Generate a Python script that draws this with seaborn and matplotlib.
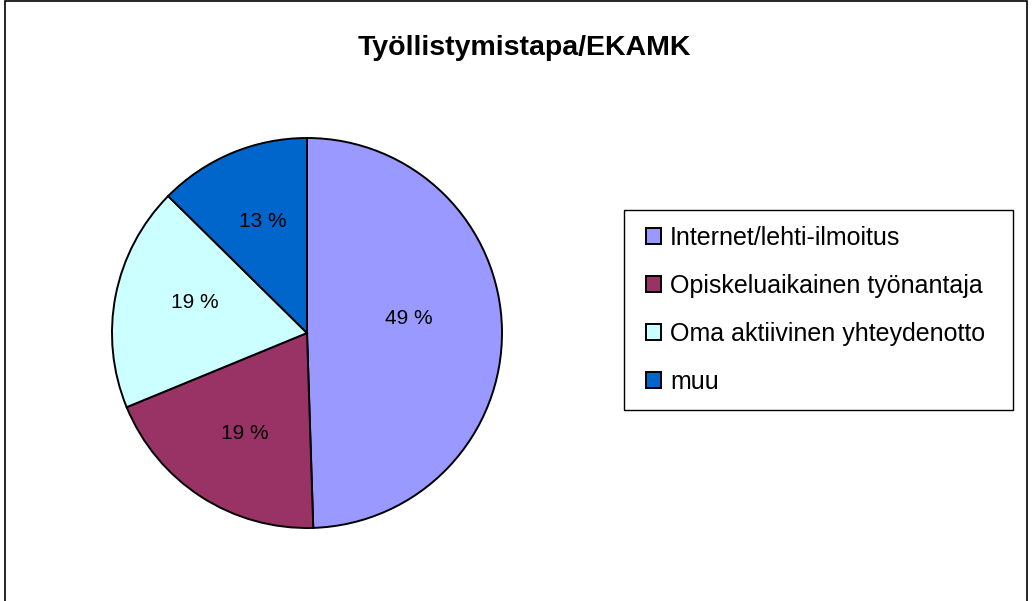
import matplotlib
matplotlib.use("Agg")
import matplotlib.pyplot as plt
import seaborn as sns
from matplotlib.patches import Rectangle

sns.set_theme(style="white")
plt.rcParams["font.family"] = ["Liberation Sans", "DejaVu Sans"]
plt.rcParams["text.color"] = "black"

title = "Työllistymistapa/EKAMK"
categories = ["Internet/lehti-ilmoitus", "Opiskeluaikainen työnantaja",
              "Oma aktiivinen yhteydenotto", "muu"]
shares = [49.49, 19.3, 18.6, 12.61]
colors = ["#9999FF", "#993366", "#CCFFFF", "#0066CC"]

W, H = 1032, 601
dpi = 100
fig = plt.figure(figsize=(W / dpi, H / dpi), dpi=dpi)


def px(x, y):
    # pixel (from top-left) -> figure fraction
    return x / W, 1 - y / H


# pie axes: centre (307, 333) px, radius 195 px
cx, cy, r = 307, 333, 195
ax = fig.add_axes([(cx - r) / W, (H - cy - r) / H, 2 * r / W, 2 * r / H])
wedges, texts, autotexts = ax.pie(
    shares, colors=colors, startangle=90, counterclock=False, radius=1,
    autopct=lambda p: "%.0f %%" % p, pctdistance=0.58,
    wedgeprops=dict(edgecolor="black", linewidth=1.4),
    textprops=dict(fontsize=15, color="black"))
for w in wedges:
    w.set_clip_on(False)

# excel-style label placement (label centres, in radius units)
label_pos = [(0.523, 0.075), (-0.318, -0.515), (-0.574, 0.157), (-0.226, 0.572)]
for t, (lx, ly) in zip(autotexts, label_pos):
    t.set_position((lx, ly))

ax.set_xlim(-1, 1)
ax.set_ylim(-1, 1)
ax.set_aspect("equal")
ax.axis("off")

fig.text(*px(524, 48), title, ha="center", va="center",
         fontsize=20.5, fontweight="bold", color="black")

# legend frame drawn by hand, entries placed inside it
x0, y0 = px(624, 410)
x1, y1 = px(1013, 210)
fig.patches.append(Rectangle((x0, y0), x1 - x0, y1 - y0,
                             transform=fig.transFigure, fill=False,
                             edgecolor="black", linewidth=1.0))
leg = fig.legend(wedges, categories, loc="center left",
                 bbox_to_anchor=px(646, 310),
                 fontsize=18, frameon=False, labelcolor="black",
                 handlelength=0.6, handleheight=0.6, handletextpad=0.36,
                 labelspacing=0.96, borderpad=0, borderaxespad=0)

# outer chart border
fig.patches.append(Rectangle((5 / W, -0.1), 1022 / W, 1.1 - 1 / H,
                             transform=fig.transFigure, fill=False,
                             edgecolor="black", linewidth=1.2))

fig.savefig("out.png", dpi=dpi)
